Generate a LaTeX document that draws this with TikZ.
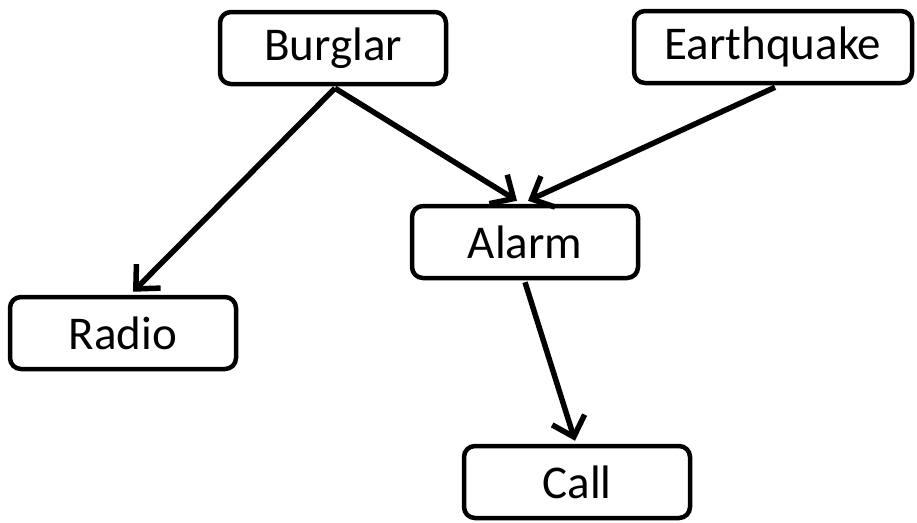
\documentclass[tikz,border=0pt]{standalone}
\usepackage{fontspec}
\setmainfont{Carlito}
\usetikzlibrary{arrows.meta, positioning, calc}
\tikzset{
  % event boxes
  ev/.style={draw=black, line width=4.5pt, rounded corners=11pt, fill=white,
    minimum width=226pt, minimum height=72pt, inner sep=0pt,
    font=\fontsize{47}{56}\selectfont},
  A/.style={-{Straight Barb[length=18pt,width=34pt,line width=5.5pt]}, line width=5.5pt},
}
\begin{document}
\begin{tikzpicture}[x=1pt, y=-1pt]
\useasboundingbox (0,0) rectangle (917,522);

% ---- nodes ----
\node[ev] (burglar) at (333,48) {Burglar};
\node[ev, minimum width=278pt] (quake) at (773,47) {Earthquake};
\node[ev] (alarm) at (525,242) {Alarm};
\node[ev] (radio) at (123,333) {Radio};
\node[ev] (call) at (577,482) {Call};

% ---- edges ----
\coordinate (bOut) at ($(burglar.south)+(2,2)$);
\draw[A] (bOut) -- ($(radio.north)+(10,-3)$);
\draw[A] (bOut) -- ($(alarm.north)+(-8,-3)$);
\draw[A] ($(quake.south)+(2,2)$) -- ($(alarm.north)+(3,-3)$);
\draw[A] ($(alarm.south)+(0,2)$) -- ($(call.north)+(-2,-3)$);

\end{tikzpicture}
\end{document}
